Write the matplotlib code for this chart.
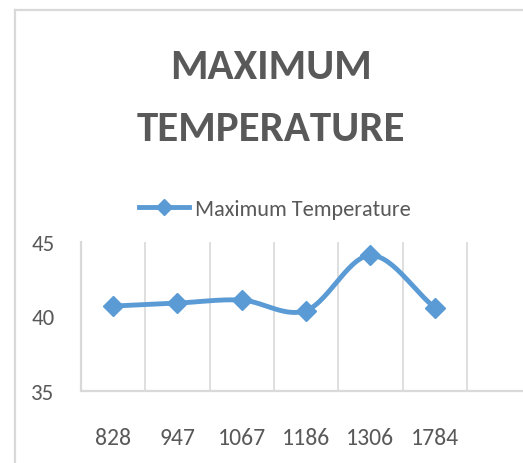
import numpy as np
import matplotlib
matplotlib.use("Agg")
import matplotlib.pyplot as plt
from matplotlib.lines import Line2D

categories = ["828", "947", "1067", "1186", "1306", "1784"]
max_temp = [40.7, 40.9, 41.1, 40.4, 44.1, 40.6]
y_ticks = [35, 40, 45]
title_lines = ["MAXIMUM", "TEMPERATURE"]
series_name = "Maximum Temperature"

W, H = 523, 464
fig = plt.figure(figsize=(W / 100, H / 100), dpi=100)
fig.patch.set_facecolor("white")

FONT = ["Carlito", "Liberation Sans", "DejaVu Sans"]
GRAY = "#595959"
BLUE = "#5B9BD5"
GRID = "#d9d9d9"

# chart border (left and top edges visible)
fig.add_artist(Line2D([15 / W, 15 / W], [0, 1 - 11 / H], transform=fig.transFigure, color=GRID, lw=1.6))
fig.add_artist(Line2D([15 / W, 1], [1 - 11 / H, 1 - 11 / H], transform=fig.transFigure, color=GRID, lw=1.6))

left, right = 81, 523
bottom, top = 392, 243
ax = fig.add_axes([left / W, 1 - bottom / H, (right - left) / W, (bottom - top) / H])

x = np.arange(len(categories))
y = np.array(max_temp)

# smooth line (Catmull-Rom through the data points, Excel-style smoothing)
def catmull_rom(px, py, n=30):
    P = np.column_stack([px, py]).astype(float)
    P = np.vstack([2 * P[0] - P[1], P, 2 * P[-1] - P[-2]])
    out = []
    for i in range(1, len(P) - 2):
        p0, p1, p2, p3 = P[i - 1], P[i], P[i + 1], P[i + 2]
        t = np.linspace(0, 1, n)[:, None]
        seg = 0.5 * ((2 * p1) + (-p0 + p2) * t + (2 * p0 - 5 * p1 + 4 * p2 - p3) * t ** 2
                     + (-p0 + 3 * p1 - 3 * p2 + p3) * t ** 3)
        out.append(seg if i == 1 else seg[1:])
    out = np.vstack(out)
    return out[:, 0], out[:, 1]

sx, sy = catmull_rom(x, y)
ax.plot(sx, sy, color=BLUE, lw=3.5, solid_capstyle="round", zorder=3)
ax.plot(x, y, linestyle="none", marker="D", markersize=10.5, color=BLUE, zorder=4)

ax.set_yticks(y_ticks)
ax.set_yticklabels([str(v) for v in y_ticks], fontsize=16.5, color=GRAY, family=FONT)
ax.set_xticks(x)
ax.set_xticklabels(categories, fontsize=17, color=GRAY, family=FONT)
ax.tick_params(axis="x", length=0, pad=26)
ax.tick_params(axis="y", length=0, pad=19)
ax.set_xticks(np.arange(0.5, len(categories) + 1, 1), minor=True)
ax.tick_params(axis="x", which="minor", length=0)
ax.grid(True, axis="x", which="minor", color=GRID, lw=1.2)
ax.grid(False, axis="x", which="major")
ax.grid(False, axis="y")
ax.set_xlim(-0.5, -0.5 + (right - left) / 64.3)
ax.set_ylim(35, 45)
for s in ["top", "right"]:
    ax.spines[s].set_visible(False)
ax.spines["left"].set_color(GRID)
ax.spines["left"].set_linewidth(1.6)
ax.spines["bottom"].set_color(GRID)
ax.spines["bottom"].set_linewidth(1.6)

for line, yc in zip(title_lines, [67.5, 129.5]):
    fig.text(271 / W, 1 - yc / H, line, ha="center", va="center", fontsize=31,
             fontweight="bold", color=GRAY, family=FONT)

handle = Line2D([], [], color=BLUE, lw=3.5, marker="D", markersize=8.5)
fig.legend([handle], [series_name], loc="center", bbox_to_anchor=(275 / W, 1 - 210 / H),
           frameon=False, prop={"family": FONT, "size": 16}, handlelength=2.25,
           handletextpad=0.25, labelcolor=GRAY)

fig.savefig("out.png", dpi=100, facecolor="white")
